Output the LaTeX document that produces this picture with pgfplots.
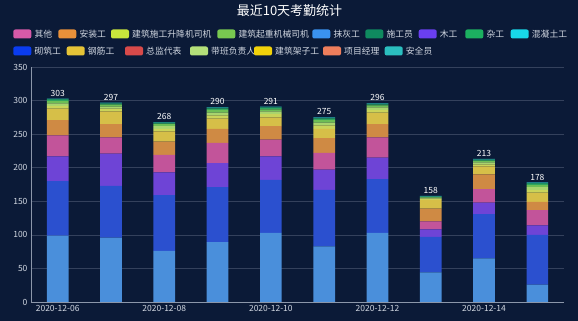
\documentclass[border=0pt]{standalone}
\usepackage{pgfplots}
\pgfplotsset{compat=1.18}
\usepackage{pgfplotstable}
\usepackage{fontspec}
\setmainfont{Noto Sans CJK SC}
\definecolor{bg}{HTML}{0B1A37}
\definecolor{gridc}{HTML}{34415C}
\definecolor{axisc}{HTML}{8C97AA}
\definecolor{labc}{HTML}{D2D8E2}
% bar colours
\definecolor{cmh}{HTML}{4A8FDB}
\definecolor{cqz}{HTML}{2B50CF}
\definecolor{cmg}{HTML}{6E44D6}
\definecolor{cqt}{HTML}{C2549A}
\definecolor{caz}{HTML}{CF8A44}
\definecolor{cgj}{HTML}{D6BF48}
\definecolor{csj}{HTML}{C9D45A}
\definecolor{cdb}{HTML}{A8D46E}
\definecolor{cqj}{HTML}{6DBE55}
\definecolor{czg}{HTML}{2FA65E}
\definecolor{csg}{HTML}{1C8A62}
\definecolor{caq}{HTML}{2BB5B5}
% legend colours
\definecolor{lqt}{HTML}{D65AA8}
\definecolor{laz}{HTML}{E8903A}
\definecolor{lsj}{HTML}{C8E63C}
\definecolor{lqj}{HTML}{78C850}
\definecolor{lmh}{HTML}{3A92F0}
\definecolor{lsg}{HTML}{0F8A5F}
\definecolor{lmg}{HTML}{6A3FF0}
\definecolor{lzg}{HTML}{1CB060}
\definecolor{lhn}{HTML}{18D8E8}
\definecolor{lqz}{HTML}{0A3CF0}
\definecolor{lgj}{HTML}{E6C437}
\definecolor{lzj}{HTML}{D84A4A}
\definecolor{ldb}{HTML}{B4E07A}
\definecolor{ljz}{HTML}{F2D20A}
\definecolor{lxm}{HTML}{EE7E5C}
\definecolor{laq}{HTML}{2BBFBF}

\pgfplotstableread{
x mh qz mg qt az gj sj db qj zg sg aq total
0 99 81 37 31 23 17 4 4 3 2 1 1 303
1 96 77 48 24 20 19 4 3 3 1 1 1 297
2 76 83 34 26 20 15 4 4 3 1 1 1 268
3 89 82 36 30 21 15 5 4 4 2 1 1 290
4 103 79 35 25 20 13 5 4 3 2 1 1 291
5 83 84 30 25 22 14 5 4 4 2 1 1 275
6 103 80 32 30 20 17 4 4 3 1 1 1 296
7 44 53 11 12 19 13 2 1 1 1 0 1 158
8 65 66 17 20 22 12 3 3 2 1 1 1 213
9 26 74 14 23 12 14 4 4 3 2 1 1 178
}\data

\newcommand{\legitem}[4]{%
  \fill[#3, rounded corners=2pt] (#1pt,#2pt-4.5pt) rectangle (#1pt+18pt,#2pt+4.5pt);
  \node[anchor=west, inner sep=0pt, text=labc, font=\fontsize{8.8}{10}\selectfont] at (#1pt+21pt,#2pt) {#4};%
}

\begin{document}
\begin{tikzpicture}
\fill[bg] (0,0) rectangle (578pt,321pt);
\begin{axis}[
  at={(31pt,19pt)}, anchor=south west,
  scale only axis, width=533pt, height=235pt,
  ybar stacked, bar width=21.7pt,
  xmin=-0.5, xmax=9.5, ymin=0, ymax=350,
  ytick={0,50,...,350},
  xtick={0,2,4,6,8},
  xticklabels={2020-12-06,2020-12-08,2020-12-10,2020-12-12,2020-12-14},
  axis lines*=left,
  axis line style={color=axisc, line width=0.6pt},
  ymajorgrids, grid style={color=gridc, line width=0.5pt},
  major tick length=0pt,
  tick label style={font=\fontsize{8.5}{10}\selectfont, text=labc},
  /pgf/number format/assume math mode=true,
  clip=false,
]
\addplot[fill=cmh, draw=none] table[x=x, y=mh] {\data};
\addplot[fill=cqz, draw=none] table[x=x, y=qz] {\data};
\addplot[fill=cmg, draw=none] table[x=x, y=mg] {\data};
\addplot[fill=cqt, draw=none] table[x=x, y=qt] {\data};
\addplot[fill=caz, draw=none] table[x=x, y=az] {\data};
\addplot[fill=cgj, draw=none] table[x=x, y=gj] {\data};
\addplot[fill=csj, draw=none] table[x=x, y=sj] {\data};
\addplot[fill=cdb, draw=none] table[x=x, y=db] {\data};
\addplot[fill=cqj, draw=none] table[x=x, y=qj] {\data};
\addplot[fill=czg, draw=none] table[x=x, y=zg] {\data};
\addplot[fill=csg, draw=none] table[x=x, y=sg] {\data};
\addplot[fill=caq, draw=none, point meta=explicit,
  nodes near coords,
  nodes near coords style={font=\fontsize{8.5}{10}\selectfont, text=white, anchor=south, inner sep=2.5pt},
] table[x=x, y=aq, meta=total] {\data};
\end{axis}
\node[text=white, font=\fontsize{13}{15}\selectfont] at (289.5pt,310.5pt) {最近10天考勤统计};
% legend row 1
\legitem{13.3}{287}{lqt}{其他}
\legitem{58.3}{287}{laz}{安装工}
\legitem{111}{287}{lsj}{建筑施工升降机司机}
\legitem{217.3}{287}{lqj}{建筑起重机械司机}
\legitem{312.3}{287}{lmh}{抹灰工}
\legitem{365.3}{287}{lsg}{施工员}
\legitem{418.7}{287}{lmg}{木工}
\legitem{465.3}{287}{lzg}{杂工}
\legitem{510.7}{287}{lhn}{混凝土工}
% legend row 2
\legitem{13.3}{270}{lqz}{砌筑工}
\legitem{66.7}{270}{lgj}{钢筋工}
\legitem{125}{270}{lzj}{总监代表}
\legitem{190}{270}{ldb}{带班负责人}
\legitem{254}{270}{ljz}{建筑架子工}
\legitem{323}{270}{lxm}{项目经理}
\legitem{384.7}{270}{laq}{安全员}
\pgfresetboundingbox
\path[use as bounding box] (0,0) rectangle (578pt,321pt);
\end{tikzpicture}
\end{document}
